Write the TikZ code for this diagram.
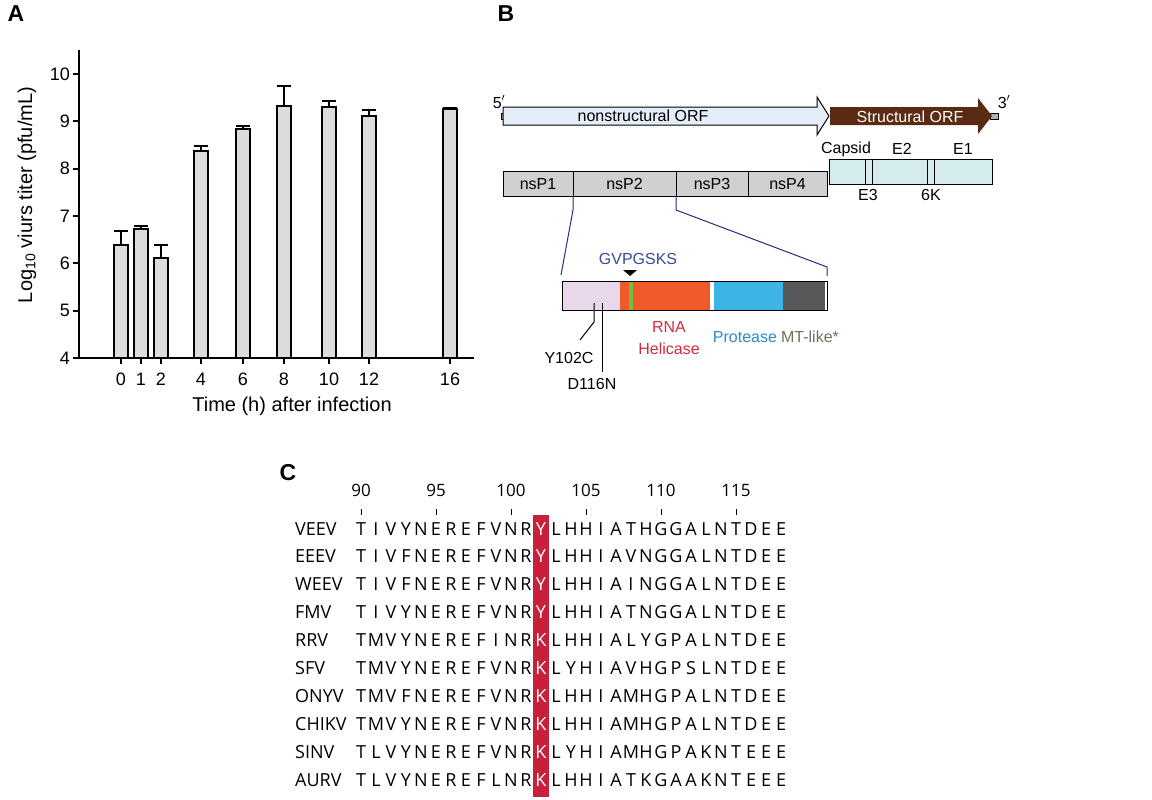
\documentclass[tikz,border=0pt]{standalone}
\usepackage{fontspec}
\setmainfont{Liberation Sans}
\newfontfamily\seqfont{Open Sans}
\usetikzlibrary{calc,shapes.arrows}
\definecolor{barfill}{HTML}{DCDCDC}
\definecolor{nsfill}{HTML}{E3EEF8}
\definecolor{stbrown}{HTML}{5A2A12}
\definecolor{capfill}{HTML}{D4ECEE}
\definecolor{nspgray}{HTML}{D0D0D0}
\definecolor{linkblue}{HTML}{2A2A80}
\definecolor{dpink}{HTML}{E8D8EA}
\definecolor{dorange}{HTML}{F05A28}
\definecolor{dgreen}{HTML}{6CBE45}
\definecolor{dblue}{HTML}{3DB4E5}
\definecolor{dgray}{HTML}{58595B}
\definecolor{motifblue}{HTML}{3A4A9A}
\definecolor{helired}{HTML}{D02D3C}
\definecolor{protblue}{HTML}{2A8AD0}
\definecolor{mtbrown}{HTML}{7A6A5F}
\definecolor{hlred}{HTML}{C8203A}
\tikzset{
  panel/.style={font=\fontsize{23}{23}\selectfont\bfseries, anchor=north west},
  lbl/.style={font=\fontsize{16}{18}\selectfont, inner sep=0pt},
  albl/.style={font=\fontsize{18}{18}\selectfont, inner sep=0pt},
  bar/.style={draw=black, line width=2pt, fill=barfill},
  res/.style={font=\seqfont\fontsize{18}{18}\selectfont, inner sep=0pt, anchor=base},
}
\newcommand{\yv}[1]{358-(#1-4)*47.33}

\begin{document}
\begin{tikzpicture}[x=1pt,y=-1pt]
		\useasboundingbox (0,0) rectangle (1152,800);
		
		%%%%% A %%%%%
		\node[panel] (pA) at (4,2) {A};
		\draw[line width=2.2pt] (79,50) -- (79,358) -- (474,358);
		\foreach \v in {4,...,10}{
			\draw[line width=2pt] (73,{\yv{\v}}) -- (79,{\yv{\v}});
			\node[albl, anchor=east] (yt\v) at (70,{\yv{\v}}) {\v};
		}
		\foreach \t/\x/\m/\e in {0/121/6.38/6.68, 1/141/6.72/6.78, 2/161/6.12/6.38,
			4/201/8.37/8.47, 6/243/8.83/8.90, 8/284/9.33/9.75, 10/329/9.30/9.42,
			12/369/9.12/9.25, 16/450/9.27/9.29}{
			\draw[line width=2pt] (\x,{\yv{\m}}) -- (\x,{\yv{\e}}) (\x-7,{\yv{\e}}) -- (\x+7,{\yv{\e}});
			\draw[bar] (\x-7,358) rectangle (\x+7,{\yv{\m}});
			\draw[line width=2pt] (\x,358) -- (\x,364);
			\node[albl] (xt\t) at (\x,379) {\t};
		}
		\node[albl, font=\fontsize{20}{20}\selectfont] (xlab) at (292,406) {Time (h) after infection};
		\node[albl, font=\fontsize{20}{20}\selectfont, rotate=90] (ylab) at (27,195) {Log\textsubscript{10} viurs titer (pfu/mL)};
		
		%%%%% B %%%%%
		\node[panel] (pB) at (494,2) {B};
		\draw[fill=gray!60, line width=0.4pt] (501,113) rectangle (504,119);
		\draw[fill=gray!60, line width=0.4pt] (990,113) rectangle (998,119);
		\node[lbl] (five) at (499,102) {5$'$};
		\node[lbl] (three) at (1004,102) {3$'$};
		\draw[fill=nsfill, line width=1pt] (503,107) -- (817,107) -- (817,97) -- (829,116)
			-- (817,135) -- (817,125) -- (503,125) -- cycle;
		\node[lbl] (nsorf) at (643,116) {nonstructural ORF};
		\fill[stbrown] (830,107) -- (978,107) -- (978,98) -- (992,116)
			-- (978,134) -- (978,125) -- (830,125) -- cycle;
		\node[lbl, text=white] (storf) at (910,117) {Structural ORF};
		
		\draw[fill=nspgray, line width=1pt] (503,171) rectangle (827,196);
		\foreach \a/\b/\n in {503/573/1, 573/676/2, 676/748/3, 748/827/4}{
			\draw[line width=1pt] (\b,171) -- (\b,196);
			\node[lbl] (nsp\n) at ({(\a+\b)/2},184) {nsP\n};
		}
		\draw[fill=capfill, line width=1pt] (829,159) rectangle (992,184);
		\foreach \x in {865,872,927,934}{
			\draw[line width=1pt] (\x,159) -- (\x,184);
		}
		\node[lbl] (capsid) at (846,149) {Capsid};
		\node[lbl] (e2) at (902,149) {E2};
		\node[lbl] (e1) at (963,149) {E1};
		\node[lbl] (e3) at (868,195) {E3};
		\node[lbl] (sixk) at (931,195) {6K};
		
		\draw[linkblue, line width=1pt] (573,196) -- (573,210) -- (561,275);
		\draw[linkblue, line width=1pt] (676,196) -- (676,210) -- (827,267) -- (827,276);
		\foreach \a/\b/\c in {562/620/dpink, 620/629/dorange, 629/633/dgreen, 633/710/dorange,
			710/714/white, 714/783/dblue, 783/825/dgray, 825/827/white}{
			\fill[\c] (\a,281) rectangle (\b,310);
		}
		\draw[line width=1pt] (562,281) rectangle (827,310);
		\fill (623,270) -- (637,270) -- (630,276) -- cycle;
		\node[lbl, text=motifblue] (motif) at (638,259) {GVPGSKS};
		\draw[line width=1pt] (594,303) -- (594,322) -- (580,340);
		\draw[line width=1pt] (602,303) -- (602,372);
		\node[lbl] (y102c) at (569,358) {Y102C};
		\node[lbl] (d116n) at (592,384) {D116N};
		\node[lbl, text=helired] (rna) at (669,327) {RNA};
		\node[lbl, text=helired] (heli) at (669,349) {Helicase};
		\node[lbl, text=protblue] (prot) at (745,337) {Protease};
		\node[lbl, text=mtbrown] (mt) at (810,337) {MT-like*};
		
		%%%%% C %%%%%
		\node[panel] (pC) at (276,461) {C};
		\fill[hlred] (533,515) rectangle (549,797);
		\foreach \p [count=\k from 0] in {90,95,...,115}{
			\node[res, font=\seqfont\fontsize{17}{17}\selectfont] (num\p) at ({361+75*\k},496) {\p};
			\draw[line width=0.8pt] ({361+75*\k},509) -- ({361+75*\k},515);
		}
		\foreach \name/\seq [count=\r from 0] in {
			VEEV/{T,I,V,Y,N,E,R,E,F,V,N,R,Y,L,H,H,I,A,T,H,G,G,A,L,N,T,D,E,E},
			EEEV/{T,I,V,F,N,E,R,E,F,V,N,R,Y,L,H,H,I,A,V,N,G,G,A,L,N,T,D,E,E},
			WEEV/{T,I,V,F,N,E,R,E,F,V,N,R,Y,L,H,H,I,A,I,N,G,G,A,L,N,T,D,E,E},
			FMV/{T,I,V,Y,N,E,R,E,F,V,N,R,Y,L,H,H,I,A,T,N,G,G,A,L,N,T,D,E,E},
			RRV/{T,M,V,Y,N,E,R,E,F,I,N,R,K,L,H,H,I,A,L,Y,G,P,A,L,N,T,D,E,E},
			SFV/{T,M,V,Y,N,E,R,E,F,V,N,R,K,L,Y,H,I,A,V,H,G,P,S,L,N,T,D,E,E},
			ONYV/{T,M,V,F,N,E,R,E,F,V,N,R,K,L,H,H,I,A,M,H,G,P,A,L,N,T,D,E,E},
			CHIKV/{T,M,V,Y,N,E,R,E,F,V,N,R,K,L,H,H,I,A,M,H,G,P,A,L,N,T,D,E,E},
			SINV/{T,L,V,Y,N,E,R,E,F,V,N,R,K,L,Y,H,I,A,M,H,G,P,A,K,N,T,E,E,E},
			AURV/{T,L,V,Y,N,E,R,E,F,L,N,R,K,L,H,H,I,A,T,K,G,A,A,K,N,T,E,E,E}}{
			\node[res, anchor=base west] (name\r) at (295,{535+27.9*\r}) {\name};
			\foreach \c [count=\i from 0] in \seq{
				\ifnum\i=12
					\node[res, text=white] (r\r-\i) at ({361+15*\i},{535+27.9*\r}) {\c};
				\else
					\node[res] (r\r-\i) at ({361+15*\i},{535+27.9*\r}) {\c};
				\fi
			}
		}
\end{tikzpicture}
\end{document}
